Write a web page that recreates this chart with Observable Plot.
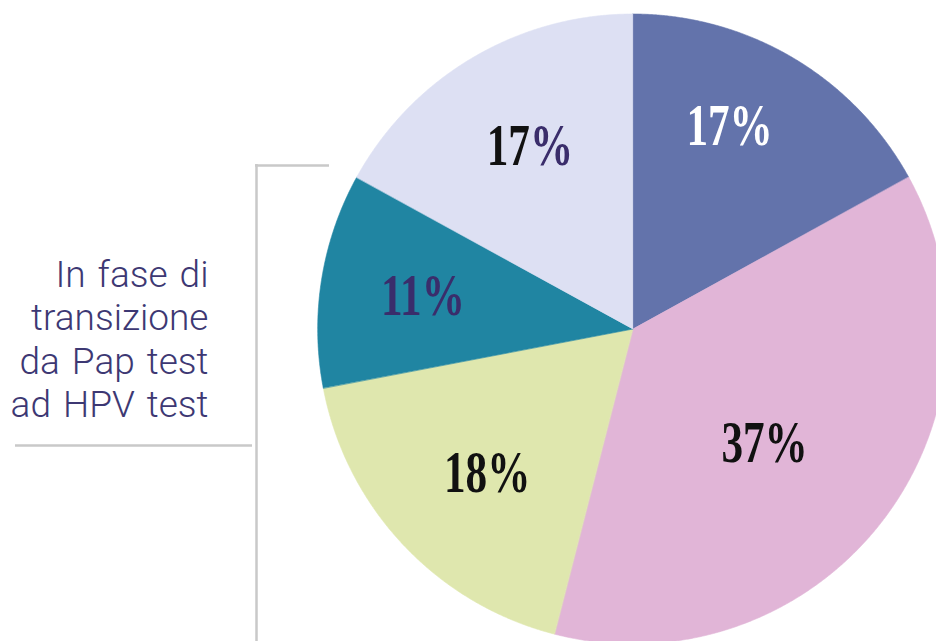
<!DOCTYPE html>
<html>
<head>
<meta charset="utf-8">
<script src="https://cdn.jsdelivr.net/npm/d3@7"></script>
<script src="https://cdn.jsdelivr.net/npm/@observablehq/plot@0.6"></script>
<style>
  html, body { margin: 0; padding: 0; background: #ffffff; }
  #chart svg { display: block; }
</style>
</head>
<body>
<div id="chart"></div>
<script>
// ---- data ----
const categories = ["Gruppo 1", "Gruppo 2", "Gruppo 3", "Gruppo 4", "Gruppo 5"];
const shares = [17, 37, 18, 11, 17];
const annotationLines = ["In fase di", "transizione", "da Pap test", "ad HPV test"];

// ---- styles ----
const palette = ["#6373ab", "#e1b5d7", "#dfe7ae", "#2085a2", "#dde0f3"];
const numberColors = ["#ffffff", "#111111", "#111111", "#3a2d6b", "#111111"];
const percentColors = ["#ffffff", "#111111", "#111111", "#3a2d6b", "#3a2d6b"];
const labelPlace = [
  {r: 0.716, da: -5.3}, {r: 0.551, da: 3.0}, {r: 0.649, da: -1.2},
  {r: 0.676, da: 0}, {r: 0.668, da: 1.2}
];

// ---- layout ----
const W = 936, H = 641;
const CX = 632.7, CY = 329, R = 315;           // pie centre and radius in pixels
const toX = px => (px - CX) / R;
const toY = py => (CY - py) / R;

const slices = categories.map((c, i) => ({key: c, share: shares[i], i}));
const arcs = d3.pie().sort(null).value(d => d.share)(slices);

// sampled outline points of each slice (area between arc and centre)
const points = [];
arcs.forEach(a => {
  const n = Math.max(2, Math.ceil((a.endAngle - a.startAngle) / (Math.PI / 720)));
  for (let k = 0; k <= n; k++) {
    const t = a.startAngle + (a.endAngle - a.startAngle) * k / n;
    points.push({key: a.data.key, x1: Math.sin(t), y1: Math.cos(t), x2: 0, y2: 0});
  }
});

const labels = arcs.map((a, i) => {
  const p = labelPlace[i];
  const mid = (a.startAngle + a.endAngle) / 2 + p.da * Math.PI / 180;
  return {key: a.data.key, text: a.data.share + "%", x: p.r * Math.sin(mid), y: p.r * Math.cos(mid)};
});

const lineColor = "#c9c9c9";

const chart = Plot.plot({
  width: W, height: H,
  marginTop: 0, marginRight: 0, marginBottom: 0, marginLeft: 0,
  x: {domain: [toX(0), toX(W)], axis: null},
  y: {domain: [toY(H), toY(0)], axis: null},
  color: {domain: categories, range: palette},
  marks: [
    Plot.area(points, {x1: "x1", y1: "y1", x2: "x2", y2: "y2", z: "key", fill: "key", stroke: "key", strokeWidth: 0.6, curve: "linear"}),
    Plot.text(labels, {
      x: "x", y: "y", text: "text",
      fontFamily: "'Liberation Serif', 'DejaVu Serif', serif", fontWeight: "bold",
      fontSize: 60, textAnchor: "middle", lineAnchor: "middle"
    }),
    // annotation bracket
    Plot.ruleY([toY(165)], {x1: toX(255), x2: toX(329), stroke: lineColor, strokeWidth: 2.5}),
    Plot.ruleX([toX(256)], {y1: toY(164), y2: toY(H), stroke: lineColor, strokeWidth: 2.5}),
    Plot.ruleY([toY(445)], {x1: toX(15), x2: toX(252), stroke: lineColor, strokeWidth: 2.5}),
    Plot.text([annotationLines.join("\n")], {
      x: toX(208), y: toY(255), text: d => d,
      textAnchor: "end", lineAnchor: "top", lineHeight: 1.18,
      fontSize: 37, fontFamily: "Roboto, 'Liberation Sans', sans-serif", fontWeight: 300,
      fill: "#3d3873"
    })
  ]
});

document.getElementById("chart").appendChild(chart);

// annotation: slightly wider word gaps
d3.select(chart).selectAll("text")
  .filter(function() { return /fase|transizione|HPV/.test(this.textContent); })
  .style("word-spacing", "3px");

// split percentage labels into number + "%" with their own colours, narrow the serif face
const pctTexts = d3.select(chart).selectAll("text").filter(function() {
  return /^\d+%$/.test(this.textContent.trim());
});
pctTexts.each(function(_, j) {
  const el = d3.select(this);
  const s = this.textContent.trim();
  el.text(null);
  el.append("tspan").attr("fill", numberColors[j]).text(s.slice(0, -1));
  el.append("tspan").attr("fill", percentColors[j]).text("%");
  const len = this.getComputedTextLength();
  el.attr("textLength", (len * 0.72).toFixed(1)).attr("lengthAdjust", "spacingAndGlyphs");
});
</script>
</body>
</html>
